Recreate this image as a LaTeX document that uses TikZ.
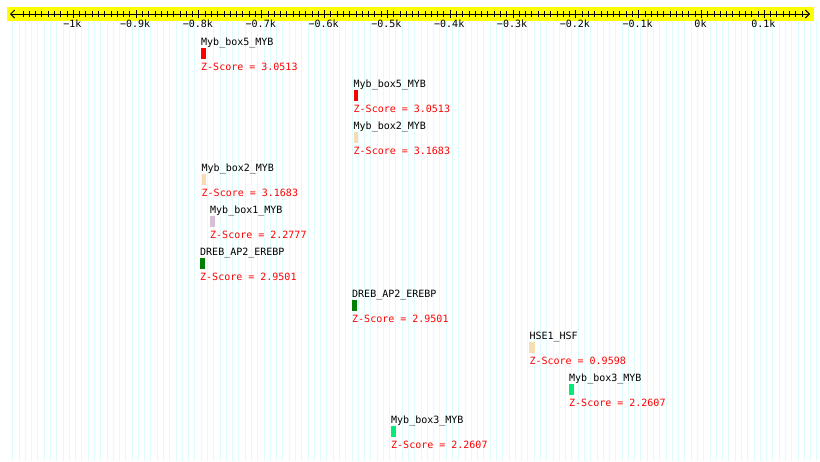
\documentclass[tikz,border=0pt]{standalone}
\usepackage{fontspec}
\setmonofont{DejaVu Sans Mono}
\usepackage{xcolor}
\definecolor{gridcyan}{RGB}{222,252,252}
\definecolor{axyellow}{RGB}{255,255,0}
\definecolor{zred}{RGB}{255,0,0}
\definecolor{mybfive}{RGB}{255,0,0}
\definecolor{mybtwo}{RGB}{250,218,180}
\definecolor{mybone}{RGB}{216,191,216}
\definecolor{dreb}{RGB}{0,128,0}
\definecolor{hseone}{RGB}{245,222,179}
\definecolor{mybthree}{RGB}{0,238,118}
\usepackage{tikz}
\usetikzlibrary{arrows.meta,positioning}
\tikzset{
  gridln/.style={gridcyan,line width=1pt},
  axln/.style={line width=0.9pt,{Straight Barb[length=4pt,width=8pt]}-{Straight Barb[length=4pt,width=8pt]}},
  tickln/.style={line width=0.9pt},
  pxfont/.style={font=\ttfamily\fontsize{10}{12}\selectfont,inner sep=0pt},
  axlab/.style={pxfont,anchor=base},
  motname/.style={pxfont,anchor=base west},
  zscore/.style={pxfont,anchor=base west,text=zred},
}
% position of a value (bp) on the axis
\newcommand{\axx}[1]{701.5+0.6282*(#1)}

\begin{document}
\begin{tikzpicture}[x=1pt,y=-1pt]
  \useasboundingbox (0,0) rectangle (820,461);
  % --- background grid, one line per 10 bp ---
  \foreach \v in {-1100,-1090,...,180}
    \draw[gridln] ({\axx{\v}+2.3},21) -- ++(0,440);
  % --- the ruler ---
  \fill[axyellow] (7,7) rectangle (813.5,21);
  \coordinate (axL) at (10,14);
  \coordinate (axR) at (810,14);
  \draw[axln] (axL) -- (axR);
  \foreach \v in {-1080,-1070,...,160}
    \draw[tickln] ({\axx{\v}},11) -- ++(0,6);
  \foreach \v/\t [count=\k] in {-1000/−1k,-900/−0.9k,-800/−0.8k,-700/−0.7k,
      -600/−0.6k,-500/−0.5k,-400/−0.4k,-300/−0.3k,-200/−0.2k,-100/−0.1k,0/0k,100/0.1k}{
    \draw[tickln] ({\axx{\v}},10) -- ++(0,8);
    \node[axlab] (tk\k) at ({\axx{\v}-1},27) {\t};
  }
  % --- motif hits (name, site, score) ---
  \foreach \i/\xx/\nm/\cl/\bw/\zs in {
      0/201/Myb\_box5\_MYB/mybfive/4.7/3.0513,
      1/353.5/Myb\_box5\_MYB/mybfive/4.7/3.0513,
      2/353.5/Myb\_box2\_MYB/mybtwo/4.2/3.1683,
      3/201.5/Myb\_box2\_MYB/mybtwo/4.2/3.1683,
      4/210/Myb\_box1\_MYB/mybone/4.7/2.2777,
      5/200/DREB\_AP2\_EREBP/dreb/5/2.9501,
      6/352/DREB\_AP2\_EREBP/dreb/5/2.9501,
      7/529.3/HSE1\_HSF/hseone/6/0.9598,
      8/569/Myb\_box3\_MYB/mybthree/4.5/2.2607,
      9/391/Myb\_box3\_MYB/mybthree/4.5/2.2607}{
    \pgfmathsetmacro{\yb}{45.7+42*\i}
    \node[motname] (nm\i) at (\xx,\yb) {\nm};
    \fill[\cl] (\xx,\yb+2.6) rectangle ++(\bw,10.6);
    \node[zscore] (zs\i) at (\xx,\yb+24.6) {Z-Score = \zs};
  }
\end{tikzpicture}
\end{document}
